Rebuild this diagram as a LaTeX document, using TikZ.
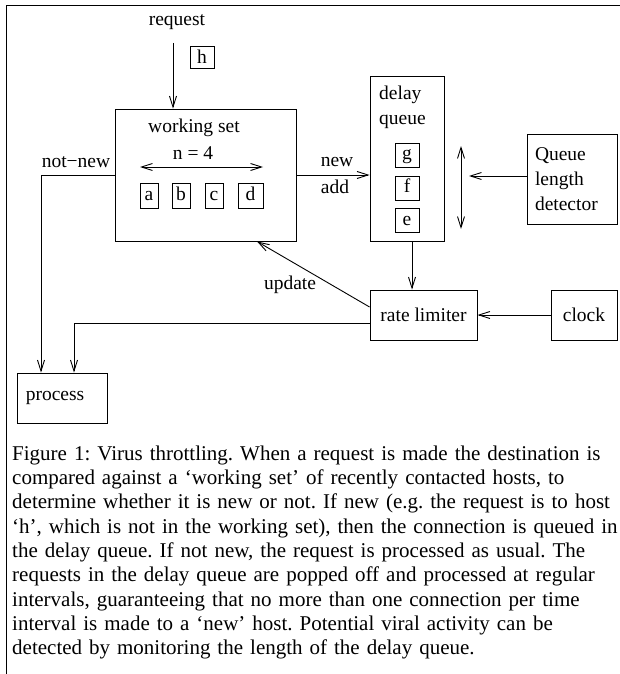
\documentclass[tikz,border=0pt]{standalone}
\usepackage{fontspec}
\setmainfont{Liberation Serif}
\usetikzlibrary{arrows.meta,calc}
\tikzset{
  box/.style={draw, line width=0.9pt, inner sep=0pt},
  lbl/.style={font=\fontsize{19.5}{25}\selectfont, inner sep=0pt},
  item/.style={box, lbl, minimum width=18pt, minimum height=25pt, text height=13.5pt, text depth=4pt},
  arr/.style={line width=0.9pt, -{Straight Barb[length=11pt,width=7pt,line width=0.9pt]}},
  arrboth/.style={line width=0.9pt, {Straight Barb[length=11pt,width=7pt,line width=0.9pt]}-{Straight Barb[length=11pt,width=7pt,line width=0.9pt]}},
}
\begin{document}
\begin{tikzpicture}[x=1pt,y=-1pt]
  \useasboundingbox (0,0) rectangle (620,674);
  % frame
  \draw[line width=0.9pt] (620,5) -- (6,5) -- (6,674);

  % incoming request
  \node[lbl] (req) at (177,22) {request};
  \node[box, lbl, minimum width=24pt, minimum height=22pt] (h) at (202,57) {h};
  \coordinate (reqtop) at (173,43);

  % working set
  \node[box, minimum width=181pt, minimum height=132pt] (ws) at (205.5,175) {};
  \node[lbl] (wslbl) at (194,128) {working set};
  \node[lbl] (nlbl) at (193,153) {n = 4};
  \coordinate (nl) at (140,167);
  \coordinate (nr) at (263,167);
  \node[item] (a) at (149,195.5) {a};
  \node[item] (b) at (181,195.5) {b};
  \node[item] (c) at (214,195.5) {c};
  \node[item, minimum width=25pt] (d) at (250.5,195.5) {d};

  % delay queue
  \node[box, minimum width=74pt, minimum height=165pt] (dq) at (407,158.5) {};
  \node[lbl, anchor=west, align=left] (dqlbl) at (379,107.5) {delay\\queue};
  \node[item, minimum width=24pt, minimum height=24pt] (g) at (407,155) {g};
  \node[item, minimum width=24pt, minimum height=24pt] (f) at (407,188) {f};
  \node[item, minimum width=24pt, minimum height=24pt] (e) at (407,220.5) {e};
  \coordinate (qtop) at (461,146);
  \coordinate (qbot) at (461,229);
  \coordinate (qmid) at (469,176);

  % queue length detector, rate limiter, clock, process
  \node[box, lbl, minimum width=90pt, minimum height=90pt, text width=74pt, align=left] (qld) at (572,179) {Queue\\length\\detector};
  \node[box, lbl, minimum width=107pt, minimum height=50pt] (rl) at (423.5,315) {rate limiter};
  \node[box, lbl, minimum width=66pt, minimum height=50pt] (clk) at (584,315) {clock};
  \node[box, minimum width=90pt, minimum height=50pt] (proc) at (62,398) {};
  \node[lbl] (proclbl) at (55,398) {process};

  % connector labels
  \node[lbl] (nnlbl) at (76,162) {not−new};
  \node[lbl] (newlbl) at (337,162) {new};
  \node[lbl] (addlbl) at (335,187) {add};
  \node[lbl] (updlbl) at (290,285) {update};

  % connectors
  \coordinate (nncorner) at (41,175);
  \coordinate (rlcorner) at (74,323);
  \draw[arr] (reqtop) -- (reqtop |- ws.north);
  \draw[arrboth] (nl) -- (nr);
  \draw[arr] (ws.west) -- (nncorner) -- (nncorner |- proc.north);
  \draw[arr] (ws.east) -- (dq.west |- ws.east);
  \draw[arrboth] (qtop) -- (qbot);
  \draw[arr] ([yshift=3pt]qld.west) -- (qmid);
  \draw[arr] ([xshift=5pt]dq.south) -- ([xshift=5pt]dq.south |- rl.north);
  \draw[arr] (clk.west) -- (rl.east);
  \draw[arr] ([yshift=8pt]rl.west) -- ([xshift=51.5pt]ws.south);
  \draw[arr] ([yshift=-8pt]rl.west) -- (rlcorner) -- (rlcorner |- proc.north);

  % caption
  \node[anchor=north west, inner sep=0pt, text width=660pt, align=left,
        font=\fontsize{21}{24.3}\selectfont\frenchspacing] (caption) at (12,445.5) {%
    Figure 1: Virus throttling. When a request is made the destination is\\
    compared against a ‘working set’ of recently contacted hosts, to\\
    determine whether it is new or not. If new (e.g. the request is to host\\
    ‘h’, which is not in the working set), then the connection is queued in\\
    the delay queue. If not new, the request is processed as usual. The\\
    requests in the delay queue are popped off and processed at regular\\
    intervals, guaranteeing that no more than one connection per time\\
    interval is made to a ‘new’ host. Potential viral activity can be\\
    detected by monitoring the length of the delay queue.};
\end{tikzpicture}
\end{document}
